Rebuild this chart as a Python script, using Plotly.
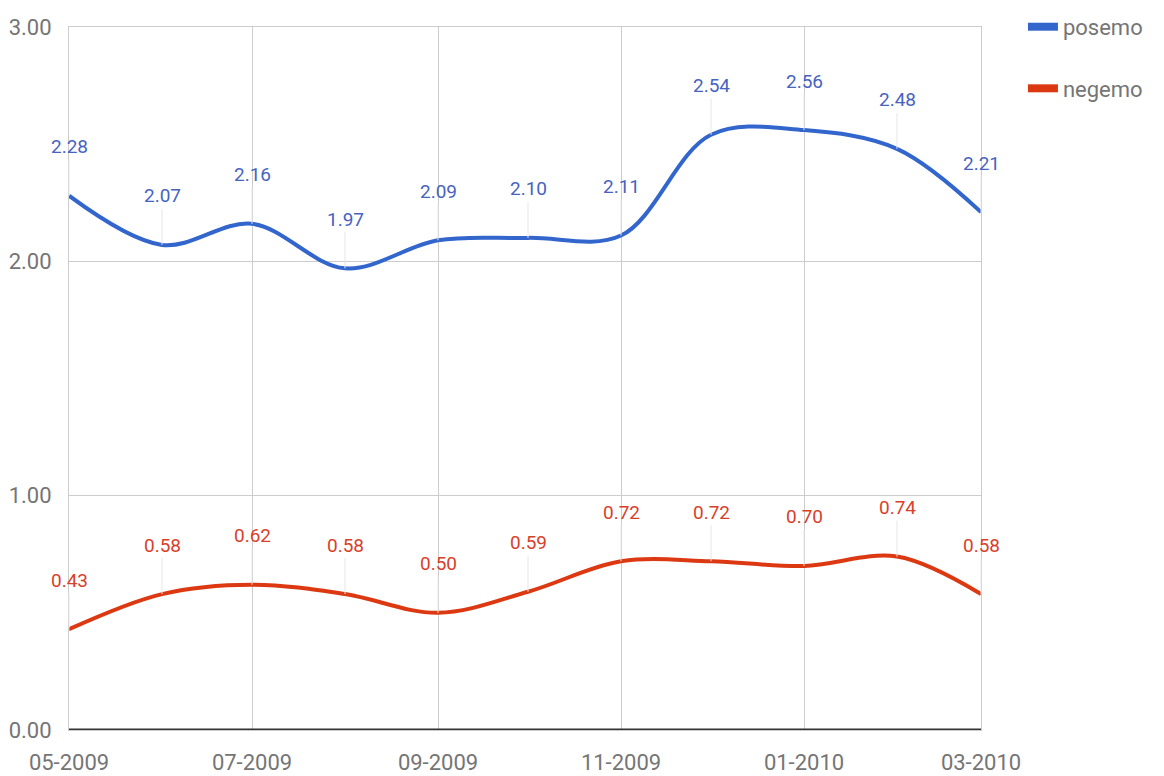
import plotly.graph_objects as go

months = ["2009-05-01", "2009-06-01", "2009-07-01", "2009-08-01", "2009-09-01", "2009-10-01",
          "2009-11-01", "2009-12-01", "2010-01-01", "2010-02-01", "2010-03-01"]
posemo = [2.28, 2.07, 2.16, 1.97, 2.09, 2.10, 2.11, 2.54, 2.56, 2.48, 2.21]
negemo = [0.43, 0.58, 0.62, 0.58, 0.50, 0.59, 0.72, 0.72, 0.70, 0.74, 0.58]
y_ticks = [0, 1, 2, 3]
y_tick_labels = ["0.00", "1.00", "2.00", "3.00"]

BLUE = "#3366cc"
RED = "#dc3912"
BLUE_TXT = "#4763c0"
RED_TXT = "#d9402a"
GRID = "#cccccc"

fig = go.Figure()
for name, vals, col, grp in (("posemo", posemo, BLUE, "p"), ("negemo", negemo, RED, "n")):
    fig.add_trace(go.Scatter(x=months, y=vals, name=name, mode="lines", legendgroup=grp,
                             showlegend=False,
                             line=dict(color=col, width=4, shape="spline", smoothing=1)))
    # legend-only entry with a thicker swatch
    fig.add_trace(go.Scatter(x=[None], y=[None], name=name, mode="lines", legendgroup=grp,
                             showlegend=True, hoverinfo="skip",
                             line=dict(color=col, width=8)))

annotations = []
for series, col in ((posemo, BLUE_TXT), (negemo, RED_TXT)):
    for xv, yv in zip(months, series):
        annotations.append(dict(
            x=xv, y=yv, xref="x", yref="y", text=f"{yv:.2f}",
            showarrow=True, arrowhead=0, arrowwidth=1, arrowcolor="#e6e6e6",
            ax=0, ay=-49, standoff=0,
            font=dict(family="Roboto", size=19, color=col),
        ))

fig.add_shape(type="line", xref="paper", yref="y", x0=0, x1=1, y0=0, y1=0,
              line=dict(color="#333333", width=3), layer="above")

# page body has an 8px margin: shrink the figure so it fits the 1164x776 window
fig.update_layout(
    width=1156, height=768,
    margin=dict(l=61, r=183, t=19, b=46, autoexpand=False),
    paper_bgcolor="white", plot_bgcolor="white",
    font=dict(family="Roboto", color="#757575"),
    annotations=annotations,
    showlegend=True,
    legend=dict(x=1.046, y=1.03, xanchor="left", yanchor="top",
                font=dict(family="Roboto", size=22, color="#757575"),
                traceorder="grouped", tracegroupgap=30, itemwidth=30),
    xaxis=dict(type="date", range=["2009-05-01", "2010-03-01"], automargin=False,
               tick0="2009-05-01", dtick="M2", tickformat="%m-%Y",
               showgrid=True, gridcolor=GRID, gridwidth=1,
               zeroline=False, showline=True, linecolor=GRID, linewidth=1, mirror=True,
               tickfont=dict(family="Roboto", size=22, color="#757575"),
               ticks="", ticklabelstandoff=13),
    yaxis=dict(range=[0, 3], tickvals=y_ticks, ticktext=y_tick_labels, automargin=False,
               showgrid=True, gridcolor=GRID, gridwidth=1,
               zeroline=False, showline=True, linecolor=GRID, linewidth=1, mirror=True,
               tickfont=dict(family="Roboto", size=22, color="#757575"),
               ticks="", ticklabelstandoff=12),
)

fig.write_html("out.html")
